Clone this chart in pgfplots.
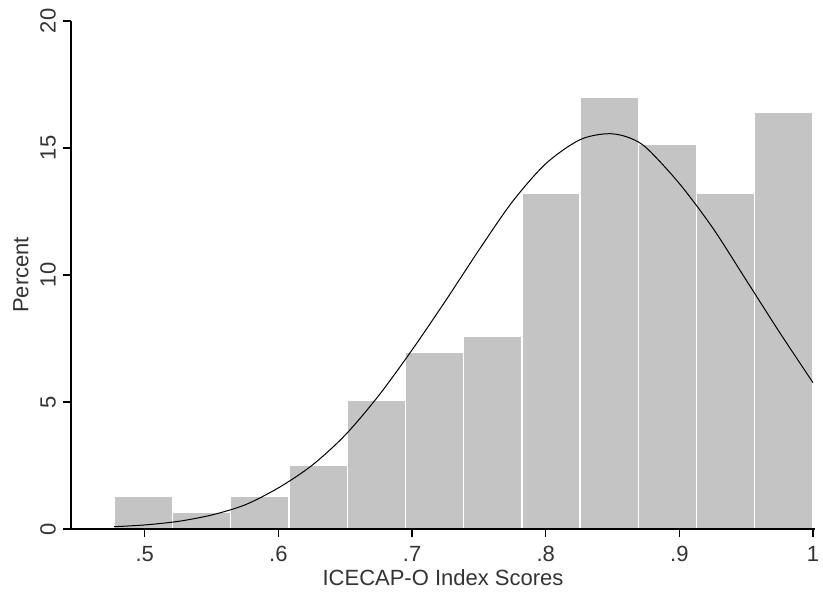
\documentclass[border=0pt]{standalone}
\usepackage{fontspec}
\setmainfont{Liberation Sans}
\usepackage{pgfplots}
\pgfplotsset{compat=1.18}
\definecolor{bargray}{RGB}{196,196,196}
\begin{document}
\begin{tikzpicture}
\begin{axis}[
  at={(0,0)}, anchor=south west,
  scale only axis, width=372pt, height=254pt,
  xmin=0.4448, xmax=1.0015, ymin=0, ymax=20,
  axis x line*=bottom, axis y line*=left,
  axis line style={black, line width=0.6pt},
  every tick/.style={black, line width=0.6pt},
  axis on top,
  tick align=outside, major tick length=4pt,
  xtick={0.5,0.6,0.7,0.8,0.9,1}, xticklabels={.5,.6,.7,.8,.9,1},
  ytick={0,5,10,15,20},
  yticklabel style={rotate=90, anchor=south},
  /pgf/number format/assume math mode=true,
  tick label style={font=\fontsize{11}{13}\selectfont, text=black!80},
  label style={font=\fontsize{11}{13}\selectfont, text=black!80},
  xticklabel style={yshift=-1pt},
  xlabel={ICECAP-O Index Scores},
  ylabel={Percent},
  xlabel style={yshift=3pt},
  ylabel style={yshift=-1pt},
  clip=false,
]
\addplot[ybar interval, fill=bargray, draw=white, line width=0.7pt] coordinates {
(0.4772,1.27) (0.5208,0.64) (0.5643,1.27) (0.6079,2.52) (0.6515,5.05)
(0.6950,6.97) (0.7386,7.57) (0.7822,13.2) (0.8257,17.0) (0.8693,15.15)
(0.9129,13.2) (0.9564,16.4) (1.0,16.4)
};
\addplot[black, line width=0.5pt, smooth] coordinates {
(0.477,0.09) (0.50,0.16) (0.525,0.30) (0.55,0.55) (0.575,0.95)
(0.60,1.62) (0.625,2.50) (0.65,3.70) (0.675,5.25) (0.70,7.05)
(0.725,8.98) (0.75,10.98) (0.775,12.88) (0.80,14.38) (0.825,15.31)
(0.845,15.56) (0.86,15.45) (0.875,15.02) (0.90,13.6) (0.925,11.85)
(0.95,9.8) (0.975,7.74) (1.0,5.76)
};
\end{axis}
\pgfresetboundingbox
\path[use as bounding box] (-35.5pt,-31.5pt) rectangle (376pt,264.5pt);
\end{tikzpicture}
\end{document}
